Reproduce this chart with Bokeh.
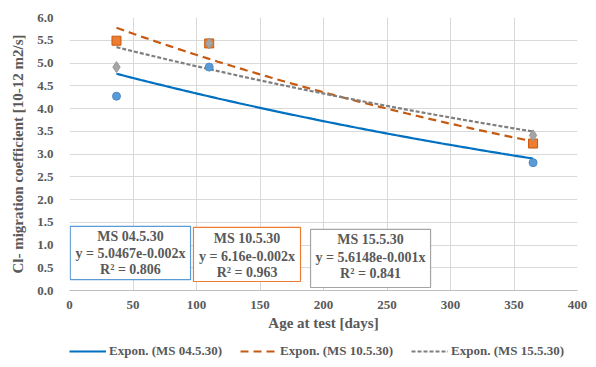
import numpy as np
from bokeh.plotting import figure
from bokeh.layouts import column
from bokeh.models import (Range1d, SingleIntervalTicker, NumeralTickFormatter,
                          BoxAnnotation, Label, Legend, LegendItem)
from bokeh.embed import file_html
from bokeh.resources import INLINE

# ---- data ----
days = [37, 110, 365]
ms04 = [4.27, 4.91, 2.81]
ms10 = [5.49, 5.43, 3.23]
ms15 = [4.91, 5.43, 3.41]
series_names = ["MS 04.5.30", "MS 10.5.30", "MS 15.5.30"]
eq_texts = ["y = 5.0467e-0.002x", "y = 6.16e-0.002x", "y = 5.6148e-0.001x"]
r2_texts = ["R\u00b2 = 0.806", "R\u00b2 = 0.963", "R\u00b2 = 0.841"]

FONT = "Liberation Serif"
TXT = "#595959"
LINE_STYLES = [dict(line_color="#0070C0", line_width=2.2),
               dict(line_color="#C55A11", line_width=2.2, line_dash="8 5"),
               dict(line_color="#7F7F7F", line_width=2.2, line_dash="4 2")]

p = figure(width=596, height=337, x_range=Range1d(0, 400), y_range=Range1d(0, 6),
           output_backend="svg", toolbar_location=None,
           min_border_left=69, min_border_right=19, min_border_top=17, min_border_bottom=47)
p.outline_line_color = None
p.background_fill_color = "white"

# axes
p.xaxis.ticker = SingleIntervalTicker(interval=50)
p.yaxis.ticker = SingleIntervalTicker(interval=0.5)
p.yaxis.formatter = NumeralTickFormatter(format="0.0")
for ax in (p.xaxis[0], p.yaxis[0]):
    ax.major_tick_line_color = None
    ax.minor_tick_line_color = None
    ax.major_label_text_font = FONT
    ax.major_label_text_font_style = "bold"
    ax.major_label_text_font_size = "13px"
    ax.major_label_text_color = TXT
    ax.axis_label_text_font = FONT
    ax.axis_label_text_font_style = "bold"
    ax.axis_label_text_font_size = "15px"
    ax.axis_label_text_color = TXT
p.xaxis.axis_line_color = "#BFBFBF"
p.yaxis.axis_line_color = None
p.xaxis.major_label_standoff = 4
p.yaxis.major_label_standoff = 10
p.xaxis.axis_label_standoff = 3
p.yaxis.axis_label_standoff = 8
p.xaxis.axis_label = "Age at test [days]"
p.yaxis.axis_label = "Cl- migration coefficient [10-12 m2/s]"
p.grid.grid_line_color = "#D9D9D9"
p.grid.grid_line_width = 1

# trendlines (exponential least-squares fit, as Excel does)
xx = np.linspace(min(days), max(days), 120)
def expfit(x, y):
    b, lna = np.polyfit(np.array(x, float), np.log(np.array(y, float)), 1)
    return np.exp(lna) * np.exp(b * xx)

trends = [expfit(days, ys) for ys in (ms04, ms10, ms15)]
for tr, st in zip(trends, LINE_STYLES):
    p.line(xx, tr, **st)

# markers
p.scatter(days, ms04, marker="circle", size=8, fill_color="#5B9BD5", line_color="#4A8BC8")
p.scatter(days, ms10, marker="square", size=9, fill_color="#ED7D31", line_color="#C55A11")
p.scatter(days, ms15, marker="diamond", size=11, fill_color="#A5A5A5", line_color="#999999")

# equation boxes
boxes = [
    dict(left=0.6, right=95.3, top=1.41, bottom=0.24, color="#5B9BD5", cx=48, ys=[1.195, 0.821, 0.469]),
    dict(left=97.6, right=181.9, top=1.387, bottom=0.198, color="#ED7D31", cx=139.8, ys=[1.137, 0.755, 0.403]),
    dict(left=189.8, right=284.3, top=1.342, bottom=0.066, color="#A5A5A5", cx=237, ys=[1.115, 0.733, 0.374]),
]
for i, bx in enumerate(boxes):
    p.add_layout(BoxAnnotation(left=bx["left"], right=bx["right"], top=bx["top"], bottom=bx["bottom"],
                               fill_color="white", fill_alpha=1.0, line_color=bx["color"],
                               line_width=1.2, line_alpha=1.0))
    for t, yy in zip([series_names[i], eq_texts[i], r2_texts[i]], bx["ys"]):
        p.add_layout(Label(x=bx["cx"], y=yy, text=t, text_align="center", text_baseline="middle",
                           text_font=FONT, text_font_style="bold", text_font_size="14px",
                           text_color=TXT))

# legend strip (trendlines only) as a separate small figure below
pl = figure(width=596, height=30, output_backend="svg", toolbar_location=None,
            x_range=Range1d(0, 1), y_range=Range1d(0, 1),
            min_border_left=0, min_border_right=0, min_border_top=0, min_border_bottom=0)
pl.axis.visible = False
pl.grid.visible = False
pl.outline_line_color = None
items = []
for name, tr, st in zip(series_names, trends, LINE_STYLES):
    r = pl.line(xx, tr, **st)  # outside this strip's ranges: only the legend swatch shows
    items.append(LegendItem(label="Expon. (" + name + ")", renderers=[r]))
legend = Legend(items=items, orientation="horizontal", location=(0, 8),
                label_text_font=FONT, label_text_font_style="bold", label_text_font_size="13px",
                label_text_color=TXT, glyph_width=37, glyph_height=14, label_height=14,
                label_standoff=3, spacing=18, padding=0, margin=0,
                border_line_color=None, background_fill_alpha=0)
pl.add_layout(legend, "center")

layout = column(p, pl, spacing=0)
open("out.html", "w").write(file_html(layout, INLINE))
